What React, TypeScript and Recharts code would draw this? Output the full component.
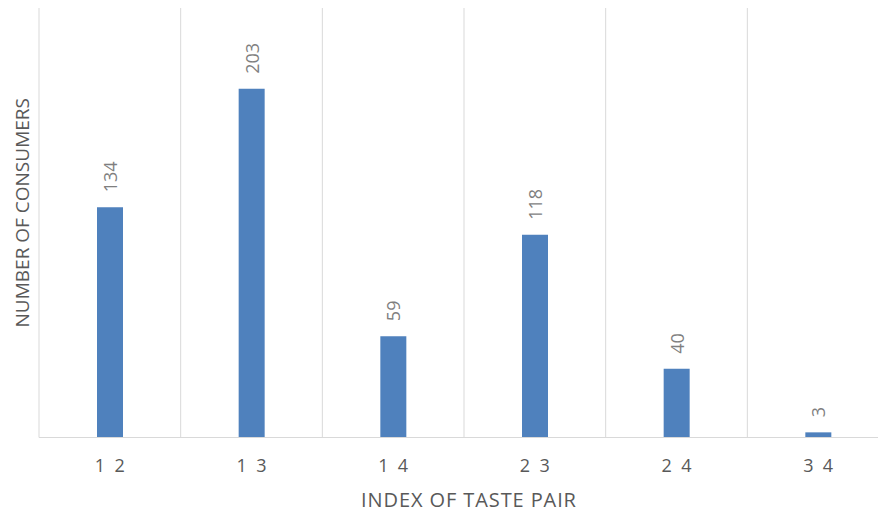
import React from 'react';
import { BarChart, Bar, XAxis, YAxis, CartesianGrid, LabelList } from 'recharts';

const pairs = ['1\u00a0\u00a02', '1\u00a0\u00a03', '1\u00a0\u00a04', '2\u00a0\u00a03', '2\u00a0\u00a04', '3\u00a0\u00a04'];
const consumers = [134, 203, 59, 118, 40, 3];

const data = pairs.map((p, i) => ({ pair: p, consumers: consumers[i] }));

const FONT = '"Open Sans", "Liberation Sans", sans-serif';

const ValueLabel = (props: any) => {
  const { x, y, width, value } = props;
  const cx = x + width / 2;
  const cy = y - 15;
  return (
    <text
      x={cx}
      y={cy}
      transform={`rotate(-90, ${cx}, ${cy})`}
      textAnchor="start"
      dominantBaseline="central"
      fill="#7f7f7f"
      fontSize={18}
      fontFamily={FONT}
    >
      {value}
    </text>
  );
};

const YTitle = (props: any) => {
  const { viewBox } = props;
  const cx = viewBox.x + viewBox.width / 2 + 2;
  const cy = viewBox.y + viewBox.height / 2 - 10;
  return (
    <text
      x={cx}
      y={cy}
      transform={`rotate(-90, ${cx}, ${cy})`}
      textAnchor="middle"
      dominantBaseline="central"
      fill="#595959"
      fontSize={19}
      fontFamily={FONT}
    >
      NUMBER OF CONSUMERS
    </text>
  );
};

const XTitle = (props: any) => {
  const { viewBox } = props;
  const cx = viewBox.x + viewBox.width / 2 + 5;
  const cy = 499;
  return (
    <text
      x={cx}
      y={cy}
      textAnchor="middle"
      dominantBaseline="central"
      fill="#595959"
      fontSize={20}
      letterSpacing={0.9}
      fontFamily={FONT}
    >
      INDEX OF TASTE PAIR
    </text>
  );
};

export default function App() {
  const n = pairs.length;
  return (
    <div style={{ position: 'absolute', left: 0, top: 0, width: 878, height: 512, overflow: 'hidden', background: '#fff' }}>
      <BarChart
        width={895}
        height={512}
        data={data}
        margin={{ top: 8, right: 6, bottom: 0, left: 0 }}
        barCategoryGap={0}
      >
        <CartesianGrid
          horizontal={false}
          stroke="#d9d9d9"
          verticalCoordinatesGenerator={({ offset }: any) =>
            Array.from({ length: n + 1 }, (_, i) => offset.left + (i * offset.width) / n)
          }
        />
        <XAxis
          dataKey="pair"
          height={74.5}
          axisLine={{ stroke: '#d9d9d9' }}
          tickLine={false}
          tick={{ fill: '#595959', fontSize: 18, fontFamily: FONT }}
          tickMargin={16}
          label={<XTitle />}
        />
        <YAxis
          width={39}
          domain={[0, 250]}
          tick={false}
          axisLine={false}
          tickLine={false}
          label={<YTitle />}
        />
        <Bar dataKey="consumers" fill="#4f81bd" barSize={26} isAnimationActive={false}>
          <LabelList dataKey="consumers" content={ValueLabel} />
        </Bar>
      </BarChart>
    </div>
  );
}
